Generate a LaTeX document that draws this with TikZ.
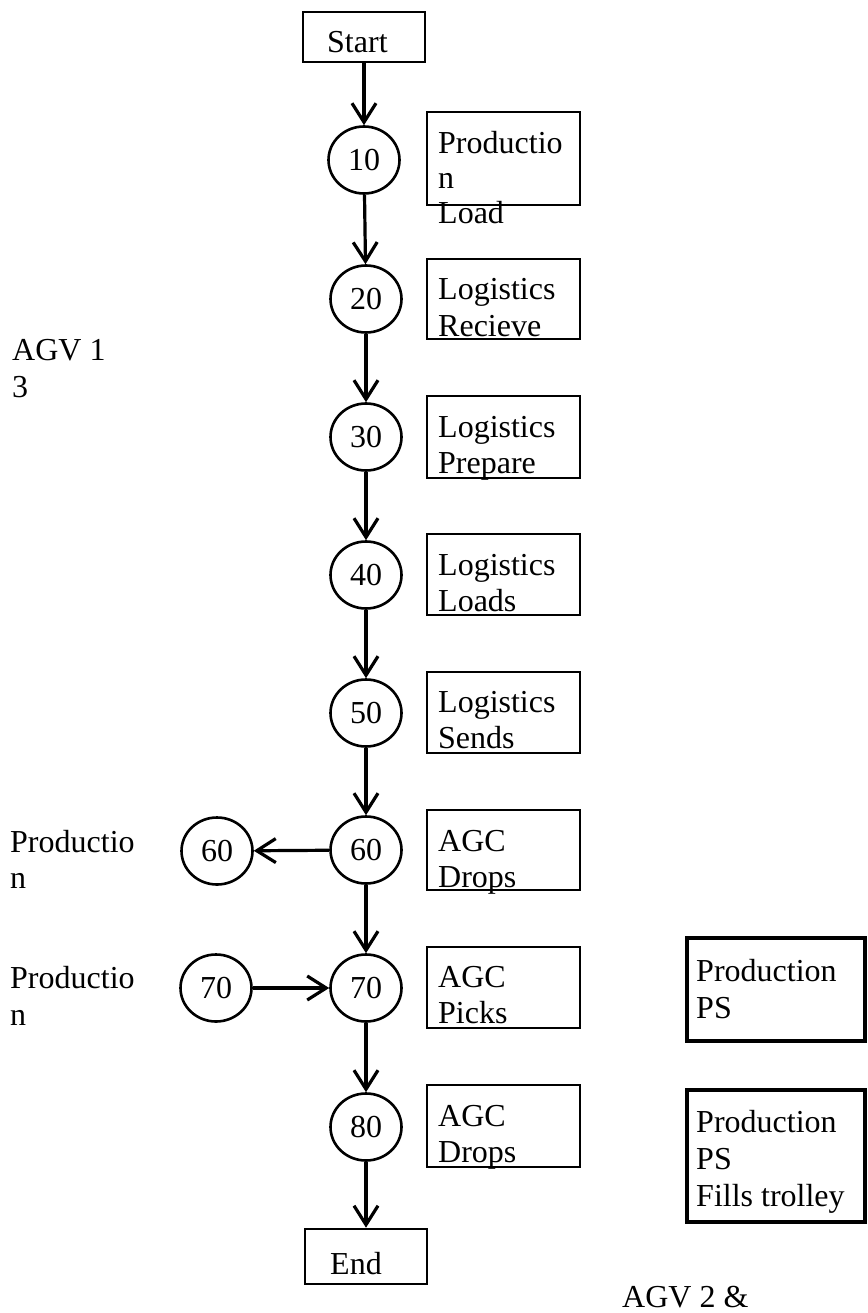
\documentclass[tikz,border=0pt]{standalone}
\usepackage{fontspec}
\setmainfont{Liberation Serif}
\usetikzlibrary{arrows.meta,shapes.geometric}
\begin{document}
\begin{tikzpicture}[x=1pt,y=-1pt,
  every node/.style={font=\fontsize{32}{36}\selectfont},
  num/.style={draw, ellipse, line width=2.6pt, minimum width=71pt, minimum height=67pt, inner sep=0pt},
  termbox/.style={draw, rectangle, line width=2.6pt, inner sep=0pt, minimum width=122pt},
  infobox/.style={draw, rectangle, line width=2.6pt, minimum width=153pt, inner sep=0pt},
  psbox/.style={draw, rectangle, line width=3.3pt, minimum width=178pt, inner sep=0pt},
  txt/.style={inner sep=0pt, anchor=base west, align=left},
  flow/.style={line width=3.2pt, -{Straight Barb[length=19pt,width=24pt]}}
]
\useasboundingbox (0,0) rectangle (867,1313);

% terminals
\node[termbox, minimum height=50pt] (start) at (364,37) {};
\node[txt] (tstart) at (327,53) {Start};
\node[termbox, minimum height=55pt] (end) at (366,1256.5) {};
\node[txt] (tend) at (330,1274) {End};

% step circles
\node[num] (c10) at (364,160) {10};
\node[num] (c20) at (366,299) {20};
\node[num] (c30) at (366,437) {30};
\node[num] (c40) at (366,575) {40};
\node[num] (c50) at (366,713) {50};
\node[num] (c60) at (366,850) {60};
\node[num] (c70) at (366,988) {70};
\node[num] (c80) at (366,1127) {80};
\node[num] (l60) at (217,851) {60};
\node[num] (l70) at (216,988) {70};

% info boxes
\node[infobox, minimum height=93pt] (b10) at (503.5,158.5) {};
\node[infobox, minimum height=80pt] (b20) at (503.5,299) {};
\node[infobox, minimum height=82pt] (b30) at (503.5,437) {};
\node[infobox, minimum height=81pt] (b40) at (503.5,574.5) {};
\node[infobox, minimum height=81pt] (b50) at (503.5,712.5) {};
\node[infobox, minimum height=80pt] (b60) at (503.5,850) {};
\node[infobox, minimum height=81pt] (b70) at (503.5,987.5) {};
\node[infobox, minimum height=82pt] (b80) at (503.5,1126) {};
\node[psbox, minimum height=103pt] (ps1) at (776,989.5) {};
\node[psbox, minimum height=132pt] (ps2) at (776,1156) {};

% box texts (anchored at the baseline of the last line)
\node[txt, font=\fontsize{32}{35}\selectfont] (t10) at (438,224) {Productio\\n\\Load};
\node[txt] (t20) at (438,336) {Logistics\\Recieve};
\node[txt] (t30) at (438,473) {Logistics\\Prepare};
\node[txt] (t40) at (438,611) {Logistics\\Loads};
\node[txt] (t50) at (438,748) {Logistics\\Sends};
\node[txt] (t60) at (438,887) {AGC\\Drops};
\node[txt] (t70) at (438,1023) {AGC\\Picks};
\node[txt] (t80) at (438,1162) {AGC\\Drops};
\node[txt, font=\fontsize{32}{37}\selectfont] (tps1) at (696,1018) {Production\\PS};
\node[txt, font=\fontsize{32}{37}\selectfont] (tps2) at (696,1206) {Production\\PS\\Fills trolley};

% side labels
\node[txt, font=\fontsize{32}{37}\selectfont] (agv1) at (12,397) {AGV 1\\3};
\node[txt] (p60) at (10,888) {Productio\\n};
\node[txt, font=\fontsize{32}{37}\selectfont] (p70) at (10,1025) {Productio\\n};
\node[txt] (agv2) at (622,1307) {AGV 2 \&};

% connectors
\draw[flow] (start) -- (c10);
\draw[flow] (c10) -- (c20);
\draw[flow] (c20) -- (c30);
\draw[flow] (c30) -- (c40);
\draw[flow] (c40) -- (c50);
\draw[flow] (c50) -- (c60);
\draw[flow] (c60) -- (c70);
\draw[flow] (c70) -- (c80);
\draw[flow] (c80) -- (end);
\draw[flow] (c60) -- (l60);
\draw[flow] (l70) -- (c70);
\end{tikzpicture}
\end{document}
